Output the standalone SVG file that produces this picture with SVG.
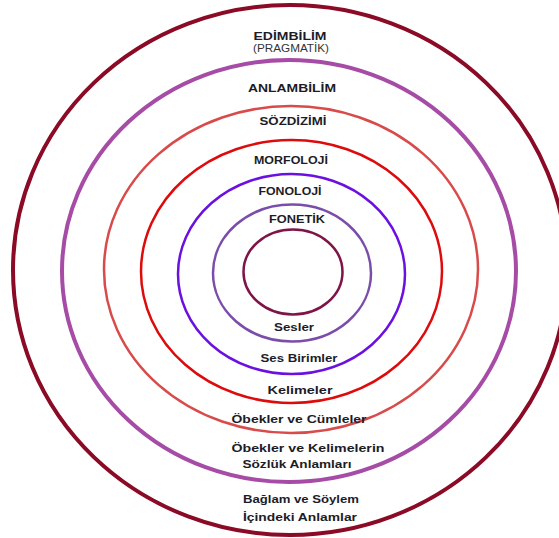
<svg xmlns="http://www.w3.org/2000/svg" width="559" height="538" viewBox="0 0 559 538">
<style>
.ring{fill:none}
.t{font-family:"Liberation Sans",Arial,sans-serif;font-weight:bold;font-size:11.5px;fill:#1c1c28;text-anchor:middle}
.s{font-family:"Liberation Sans",Arial,sans-serif;font-size:10.5px;fill:#333;text-anchor:middle}
</style>
<rect width="559" height="538" fill="#fff"/>
<g id="edimbilim">
<ellipse class="ring" cx="290" cy="270" rx="277" ry="265" stroke="#8B0A25" stroke-width="4"/>
<text class="t" x="290" y="40" textLength="73" lengthAdjust="spacingAndGlyphs">EDİMBİLİM</text>
<text class="s" x="291" y="52" textLength="76" lengthAdjust="spacingAndGlyphs">(PRAGMATİK)</text>
<text class="t" x="301" y="503" textLength="116" lengthAdjust="spacingAndGlyphs">Bağlam ve Söylem</text>
<text class="t" x="300" y="521" textLength="114" lengthAdjust="spacingAndGlyphs">İçindeki Anlamlar</text>
</g>
<g id="anlambilim">
<ellipse class="ring" cx="289" cy="271" rx="227" ry="211" stroke="#A64CA6" stroke-width="4"/>
<text class="t" x="292" y="92" textLength="88" lengthAdjust="spacingAndGlyphs">ANLAMBİLİM</text>
<text class="t" x="308" y="452" textLength="153" lengthAdjust="spacingAndGlyphs">Öbekler ve Kelimelerin</text>
<text class="t" x="297" y="468" textLength="109" lengthAdjust="spacingAndGlyphs">Sözlük Anlamları</text>
</g>
<g id="sozdizimi">
<ellipse class="ring" cx="291" cy="269.5" rx="187" ry="163.5" stroke="#D94A4A" stroke-width="2.5"/>
<text class="t" x="293" y="125" textLength="67" lengthAdjust="spacingAndGlyphs">SÖZDİZİMİ</text>
<text class="t" x="299" y="423" textLength="135" lengthAdjust="spacingAndGlyphs">Öbekler ve Cümleler</text>
</g>
<g id="morfoloji">
<ellipse class="ring" cx="291.5" cy="271.5" rx="150.5" ry="131.5" stroke="#DD0B0B" stroke-width="2.5"/>
<text class="t" x="291" y="164" textLength="74" lengthAdjust="spacingAndGlyphs">MORFOLOJİ</text>
<text class="t" x="300" y="394" textLength="65" lengthAdjust="spacingAndGlyphs">Kelimeler</text>
</g>
<g id="fonoloji">
<ellipse class="ring" cx="291.5" cy="274" rx="113.5" ry="100" stroke="#6A10E0" stroke-width="2.5"/>
<text class="t" x="290" y="195" textLength="63" lengthAdjust="spacingAndGlyphs">FONOLOJİ</text>
<text class="t" x="299" y="362" textLength="77" lengthAdjust="spacingAndGlyphs">Ses Birimler</text>
</g>
<g id="fonetik">
<ellipse class="ring" cx="292" cy="273" rx="79" ry="68.5" stroke="#7B4DAA" stroke-width="2.5"/>
<text class="t" x="297" y="223" textLength="56" lengthAdjust="spacingAndGlyphs">FONETİK</text>
<text class="t" x="294" y="331" textLength="40" lengthAdjust="spacingAndGlyphs">Sesler</text>
</g>
<g id="sesler-core">
<ellipse class="ring" cx="293" cy="272" rx="49.5" ry="42.5" stroke="#7E1447" stroke-width="2.5"/>
</g>
</svg>
